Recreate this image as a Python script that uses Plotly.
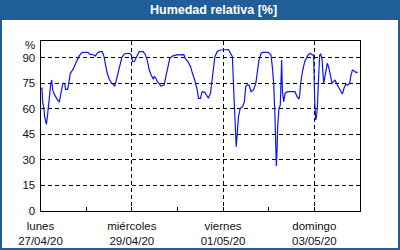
import pandas as pd
import plotly.graph_objects as go

# hours since 27/04/2020 00:00
hours = [0.1, 0.8, 1.1, 1.8, 2.2, 3.1, 3.6, 4.3, 4.8, 5.3, 5.9, 6.4, 7.4, 8.8, 9.9, 10.9,
         11.8, 12.7, 13.2, 14.3, 15.0, 15.7, 17.1, 18.8, 20.1, 21.4, 22.3, 25.0, 25.8, 28.1,
         28.8, 29.9, 31.1, 32.5, 33.4, 34.2, 35.1, 36.2, 37.2, 38.6, 39.0, 39.7, 40.7, 41.8,
         42.8, 44.2, 46.8, 47.9, 48.4, 49.3, 50.5, 51.9, 54.0, 55.2, 56.1, 57.2, 58.2, 59.3,
         59.8, 60.7, 61.4, 62.4, 63.1, 65.0, 65.9, 67.1, 68.0, 69.4, 71.5, 75.4, 76.1, 77.6,
         78.9, 79.9, 81.1, 82.4, 83.1, 84.1, 85.0, 86.4, 87.3, 88.3, 89.4, 90.1, 90.8, 91.7,
         92.9, 94.3, 95.3, 97.4, 98.8, 99.9, 100.9, 101.6, 102.0, 102.3, 102.9, 103.4, 104.1,
         105.0, 106.2, 107.2, 107.9, 108.5, 109.7, 110.7, 112.0, 113.2, 114.1, 114.9, 116.0,
         116.7, 119.8, 121.2, 121.9, 122.6, 123.3, 123.7, 124.0, 124.4, 124.7, 125.4, 126.1,
         126.8, 127.2, 127.9, 128.6, 130.0, 133.8, 134.9, 135.9, 136.3, 136.8, 137.7, 138.9,
         140.7, 141.9, 142.9, 143.6, 144.2, 144.7, 145.1, 145.6, 146.1, 146.8, 147.3, 148.0,
         148.9, 149.9, 150.8, 151.7, 152.6, 153.3, 154.2, 154.9, 155.6, 156.6, 157.7, 158.7,
         159.6, 160.5, 161.5, 162.6, 163.1, 164.0, 164.8, 165.4, 166.1, 166.8]
humidity = [71.9, 72.0, 64.0, 60.0, 55.0, 50.7, 55.0, 61.0, 68.0, 73.8, 76.8, 70.9, 68.0, 65.4,
            63.8, 69.9, 74.8, 74.8, 71.3, 71.3, 77.2, 80.7, 83.0, 87.5, 90.5, 92.5, 93.0, 93.0,
            92.0, 91.5, 90.8, 92.5, 93.4, 93.4, 90.5, 85.6, 80.7, 77.2, 75.2, 73.8, 73.0, 76.0,
            80.7, 86.6, 90.1, 92.2, 92.5, 91.5, 87.5, 87.5, 90.5, 93.4, 93.4, 91.5, 88.5, 82.6,
            79.7, 77.2, 78.8, 77.8, 75.8, 74.8, 73.2, 73.8, 78.7, 85.6, 89.5, 90.8, 91.5, 91.7,
            89.5, 87.5, 84.6, 80.7, 76.8, 70.9, 66.0, 66.0, 69.9, 69.5, 68.0, 66.0, 69.0, 74.8,
            83.6, 90.5, 93.4, 94.4, 94.4, 94.7, 94.7, 92.5, 90.5, 70.9, 60.1, 44.4, 37.5, 44.4,
            55.2, 60.1, 61.0, 64.0, 72.8, 73.8, 73.8, 69.9, 70.9, 74.8, 80.7, 88.5, 92.5, 93.0,
            93.0, 91.5, 84.6, 74.8, 55.2, 35.6, 26.2, 35.6, 49.3, 60.1, 62.0, 88.5, 69.9, 64.0,
            69.0, 69.9, 69.9, 67.0, 65.5, 68.0, 74.8, 81.6, 87.5, 91.5, 92.5, 91.5, 91.5, 64.0,
            53.2, 55.0, 61.0, 74.8, 91.5, 92.2, 89.5, 74.8, 80.7, 86.6, 83.6, 77.7, 74.8, 75.8,
            76.8, 74.8, 72.8, 70.9, 68.5, 71.9, 74.2, 73.8, 74.8, 78.7, 82.6, 82.2, 81.6, 81.0,
            81.6]

start_date = "2020-04-27"
end_date = "2020-05-04"
tick_dates = ["2020-04-27", "2020-04-29", "2020-05-01", "2020-05-03"]
tick_labels = ["lunes<br>27/04/20", "miércoles<br>29/04/20", "viernes<br>01/05/20",
               "domingo<br>03/05/20"]
y_ticks = [0, 15, 30, 45, 60, 75, 90]
title_text = "Humedad relativa [%]"

times = pd.Timestamp(start_date) + pd.to_timedelta(hours, unit="h")

W, H = 400, 250
x0, x1 = 40.5, 360.0
y_top, y_bot = 40.5, 210.5
frame_blue = "#1f5e99"
font_family = "Liberation Sans"

fig = go.Figure()
fig.add_trace(go.Scatter(x=times, y=humidity, mode="lines",
                         line=dict(color="#0a14ff", width=1.2), hoverinfo="skip",
                         showlegend=False))

fig.update_layout(
    width=W, height=H,
    margin=dict(l=0, r=0, t=0, b=0),
    paper_bgcolor="white", plot_bgcolor="white",
    font=dict(family=font_family, size=11.5, color="#111111"),
    xaxis=dict(
        domain=[x0 / W, x1 / W],
        range=[start_date, end_date],
        type="date",
        tickmode="array", tickvals=tick_dates, ticktext=tick_labels,
        ticks="inside", ticklen=4, tickcolor="black",
        showgrid=True, gridcolor="black", gridwidth=1, griddash="4px,3px",
        showline=True, linecolor="black", linewidth=1, mirror=True,
        zeroline=False, automargin=False, ticklabelstandoff=5,
        minor=dict(tickmode="linear", tick0=start_date, dtick=86400000,
                   ticks="inside", ticklen=4, tickcolor="black", showgrid=False),
    ),
    yaxis=dict(
        domain=[(H - y_bot) / H, (H - y_top) / H],
        range=[0, 100],
        tickmode="array", tickvals=y_ticks,
        ticks="", showgrid=True, gridcolor="black", gridwidth=1, griddash="4px,3px",
        showline=True, linecolor="black", linewidth=1, mirror=True,
        zeroline=False, automargin=False, ticklabelstandoff=2,
    ),
    shapes=[
        dict(type="rect", xref="paper", yref="paper", x0=0, x1=1, y0=(H - 20) / H, y1=1,
             fillcolor=frame_blue, line=dict(width=0), layer="above"),
        dict(type="rect", xref="paper", yref="paper", x0=1 / W, x1=1 - 1 / W,
             y0=1 / H, y1=1 - 1 / H, fillcolor="rgba(0,0,0,0)",
             line=dict(color=frame_blue, width=2), layer="above"),
    ],
    annotations=[
        dict(text="<b>" + title_text + "</b>", xref="paper", yref="paper",
             x=213 / W, y=(H - 10) / H, showarrow=False, xanchor="center", yanchor="middle",
             font=dict(family=font_family, size=12.5, color="white")),
        dict(text="%", xref="paper", yref="paper", x=37 / W, y=(H - 45) / H,
             showarrow=False, xanchor="right", yanchor="middle",
             font=dict(family=font_family, size=11.5, color="#111111")),
    ],
)

fig.write_html("out.html")
